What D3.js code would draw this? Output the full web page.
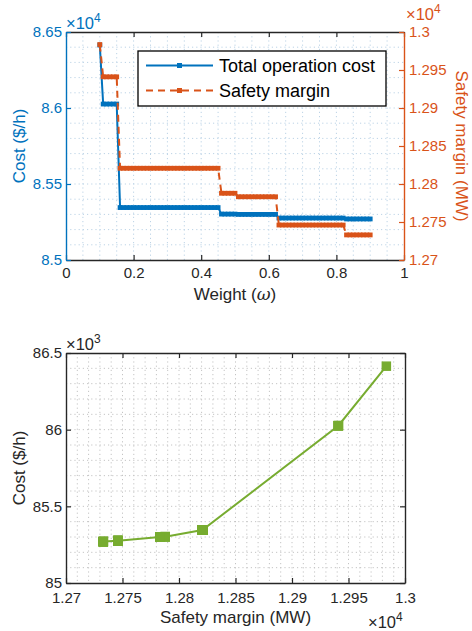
<!DOCTYPE html>
<html>
<head>
<meta charset="utf-8">
<script src="https://cdn.jsdelivr.net/npm/d3@7"></script>
<style>
  body { margin: 0; background: #fff; }
  svg { display: block; font-family: "Liberation Sans", Arial, Helvetica, sans-serif; }
</style>
</head>
<body>
<svg id="chart" width="472" height="631"></svg>
<script>
// weights that were solved (omega)
const weight = [
  0.10, 0.11, 0.12, 0.13, 0.14, 0.15, 0.16, 0.17, 0.18, 0.19,
  0.20, 0.21, 0.22, 0.23, 0.24, 0.25, 0.26, 0.27, 0.28, 0.29,
  0.30, 0.31, 0.32, 0.33, 0.34, 0.35, 0.36, 0.37, 0.38, 0.39,
  0.40, 0.41, 0.42, 0.43, 0.44, 0.45, 0.46, 0.47, 0.48, 0.49,
  0.50, 0.51, 0.52, 0.53, 0.54, 0.55, 0.56, 0.57, 0.58, 0.59,
  0.60, 0.61, 0.62, 0.63, 0.64, 0.65, 0.66, 0.67, 0.68, 0.69,
  0.70, 0.71, 0.72, 0.73, 0.74, 0.75, 0.76, 0.77, 0.78, 0.79,
  0.80, 0.81, 0.82, 0.83, 0.84, 0.85, 0.86, 0.87, 0.88, 0.89,
  0.90
];

// total operation cost ($/h)
const cost = [
  86414, 86026, 86026, 86026, 86026, 86026, 85345, 85345, 85345, 85345,
  85345, 85345, 85345, 85345, 85345, 85345, 85345, 85345, 85345, 85345,
  85345, 85345, 85345, 85345, 85345, 85345, 85345, 85345, 85345, 85345,
  85345, 85345, 85345, 85345, 85345, 85345, 85302, 85302, 85302, 85302,
  85302, 85300, 85300, 85300, 85300, 85300, 85300, 85300, 85300, 85300,
  85300, 85300, 85300, 85276, 85276, 85276, 85276, 85276, 85276, 85276,
  85276, 85276, 85276, 85276, 85276, 85276, 85276, 85276, 85276, 85276,
  85276, 85276, 85276, 85270, 85270, 85270, 85270, 85270, 85270, 85270,
  85270
];

// safety margin (MW)
const margin = [
  12983.5, 12941, 12941, 12941, 12941, 12941, 12820.7, 12820.7, 12820.7, 12820.7,
  12820.7, 12820.7, 12820.7, 12820.7, 12820.7, 12820.7, 12820.7, 12820.7, 12820.7, 12820.7,
  12820.7, 12820.7, 12820.7, 12820.7, 12820.7, 12820.7, 12820.7, 12820.7, 12820.7, 12820.7,
  12820.7, 12820.7, 12820.7, 12820.7, 12820.7, 12820.7, 12787.8, 12787.8, 12787.8, 12787.8,
  12787.8, 12783.2, 12783.2, 12783.2, 12783.2, 12783.2, 12783.2, 12783.2, 12783.2, 12783.2,
  12783.2, 12783.2, 12783.2, 12746, 12746, 12746, 12746, 12746, 12746, 12746,
  12746, 12746, 12746, 12746, 12746, 12746, 12746, 12746, 12746, 12746,
  12746, 12746, 12746, 12733, 12733, 12733, 12733, 12733, 12733, 12733,
  12733
];

// ticks
const weightTicks = [0, 0.2, 0.4, 0.6, 0.8, 1];
const weightTickLabels = ["0", "0.2", "0.4", "0.6", "0.8", "1"];
const costTicks = [85000, 85500, 86000, 86500];
const costTopTickLabels = ["8.5", "8.55", "8.6", "8.65"];
const marginTicks = [12700, 12750, 12800, 12850, 12900, 12950, 13000];
const marginTickLabels = ["1.27", "1.275", "1.28", "1.285", "1.29", "1.295", "1.3"];
const costBotTickLabels = ["85", "85.5", "86", "86.5"];

const legendLabels = ["Total operation cost", "Safety margin"];

const BLUE = "#0072BD", ORANGE = "#D95319", GREEN = "#77AC30", DARK = "#262626";

const svg = d3.select("#chart");
svg.append("rect").attr("width", 472).attr("height", 631).attr("fill", "#fff");

// "x10^n" multiplier label
function superLabel(x, y, exp, color) {
  const t = svg.append("text").attr("x", x).attr("y", y)
    .attr("fill", color).attr("font-size", 16.5);
  t.append("tspan").text("×10");
  t.append("tspan").attr("font-size", 12).attr("dy", -7.5).text(exp);
}

function grid(g, xs, ys, x0, x1, y0, y1, color) {
  g.selectAll(".gv").data(xs).enter().append("line")
    .attr("x1", d => d).attr("x2", d => d).attr("y1", y0).attr("y2", y1);
  g.selectAll(".gh").data(ys).enter().append("line")
    .attr("y1", d => d).attr("y2", d => d).attr("x1", x0).attr("x2", x1);
  g.selectAll("line").attr("stroke", color).attr("stroke-width", 1)
    .attr("stroke-dasharray", "1.2,3");
}

function styleAxis(g, color) {
  g.attr("color", color).attr("font-size", 15).attr("font-family", null);
  g.select(".domain").attr("stroke-width", 1.4);
  g.selectAll(".tick line").attr("stroke-width", 1.2);
}

// ---------- top chart ----------
const t = { left: 66, right: 404, top: 32, bottom: 260 };

const xW = d3.scaleLinear().domain([0, 1]).range([t.left, t.right]);
const yCost = d3.scaleLinear().domain([85000, 86500]).range([t.bottom, t.top]);
const yMargin = d3.scaleLinear().domain([12700, 13000]).range([t.bottom, t.top]);

const gridTop = svg.append("g");
grid(gridTop,
  d3.range(0.05, 1, 0.05).map(xW),
  d3.range(85100, 86500, 100).map(yCost),
  t.left, t.right, t.top, t.bottom, "#bcd3e6");

// series lines
const costLine = d3.line().x((d, i) => xW(weight[i])).y(d => yCost(d));
const marginLine = d3.line().x((d, i) => xW(weight[i])).y(d => yMargin(d));

svg.append("path").datum(cost).attr("d", costLine)
  .attr("fill", "none").attr("stroke", BLUE).attr("stroke-width", 2);
svg.append("g").selectAll("rect").data(cost).enter().append("rect")
  .attr("x", (d, i) => xW(weight[i]) - 2.4).attr("y", d => yCost(d) - 2.4)
  .attr("width", 4.8).attr("height", 4.8).attr("fill", BLUE);

svg.append("path").datum(margin).attr("d", marginLine)
  .attr("fill", "none").attr("stroke", ORANGE).attr("stroke-width", 2)
  .attr("stroke-dasharray", "7,5");
svg.append("g").selectAll("rect").data(margin).enter().append("rect")
  .attr("x", (d, i) => xW(weight[i]) - 2.4).attr("y", d => yMargin(d) - 2.4)
  .attr("width", 4.8).attr("height", 4.8).attr("fill", ORANGE);

// axes
const axB = svg.append("g").attr("transform", `translate(0,${t.bottom})`)
  .call(d3.axisBottom(xW).tickValues(weightTicks).tickFormat((d, i) => weightTickLabels[i])
    .tickSizeInner(-5).tickSizeOuter(0).tickPadding(7));
styleAxis(axB, DARK);
const axT = svg.append("g").attr("transform", `translate(0,${t.top})`)
  .call(d3.axisTop(xW).tickValues(weightTicks).tickFormat("")
    .tickSizeInner(-5).tickSizeOuter(0));
styleAxis(axT, DARK);
const axL = svg.append("g").attr("transform", `translate(${t.left},0)`)
  .call(d3.axisLeft(yCost).tickValues(costTicks).tickFormat((d, i) => costTopTickLabels[i])
    .tickSizeInner(-5).tickSizeOuter(0).tickPadding(4));
styleAxis(axL, BLUE);
const axR = svg.append("g").attr("transform", `translate(${t.right},0)`)
  .call(d3.axisRight(yMargin).tickValues(marginTicks).tickFormat((d, i) => marginTickLabels[i])
    .tickSizeInner(-5).tickSizeOuter(0).tickPadding(5));
styleAxis(axR, ORANGE);

superLabel(t.left, t.top - 3, "4", BLUE);
superLabel(t.right + 2, t.top - 12, "4", ORANGE);

svg.append("text").attr("transform", `translate(25,${(t.top + t.bottom) / 2}) rotate(-90)`)
  .attr("text-anchor", "middle").attr("font-size", 17).attr("fill", BLUE).text("Cost ($/h)");
svg.append("text").attr("transform", `translate(456,${(t.top + t.bottom) / 2}) rotate(90)`)
  .attr("text-anchor", "middle").attr("font-size", 17).attr("fill", ORANGE).text("Safety margin (MW)");
const wl = svg.append("text").attr("x", (t.left + t.right) / 2).attr("y", 300)
  .attr("text-anchor", "middle").attr("font-size", 17).attr("fill", DARK);
wl.append("tspan").text("Weight (");
wl.append("tspan").attr("font-style", "italic").attr("font-family", "DejaVu Serif, serif").text("ω");
wl.append("tspan").text(")");

// legend
const lg = svg.append("g");
lg.append("rect").attr("x", 138).attr("y", 51).attr("width", 248).attr("height", 55)
  .attr("fill", "#fff").attr("stroke", "#000").attr("stroke-width", 1.3);
[BLUE, ORANGE].forEach((c, i) => {
  const y = 65.5 + i * 25;
  lg.append("line").attr("x1", 146).attr("x2", 213).attr("y1", y).attr("y2", y)
    .attr("stroke", c).attr("stroke-width", 2).attr("stroke-dasharray", i ? "7,5" : null);
  lg.append("rect").attr("x", 179.5 - 2.5).attr("y", y - 2.5).attr("width", 5).attr("height", 5).attr("fill", c);
  lg.append("text").attr("x", 219).attr("y", y + 6.5).attr("font-size", 18).attr("fill", "#000")
    .text(legendLabels[i]);
});

// ---------- bottom chart ----------
const b = { left: 66, right: 405, top: 353, bottom: 583 };
const xM = d3.scaleLinear().domain([12700, 13000]).range([b.left, b.right]);
const yC = d3.scaleLinear().domain([85000, 86500]).range([b.bottom, b.top]);

const gridBot = svg.append("g");
grid(gridBot,
  d3.range(12710, 13000, 10).map(xM),
  d3.range(85100, 86500, 100).map(yC),
  b.left, b.right, b.top, b.bottom, "#c4c4c4");

const tradeLine = d3.line().x((d, i) => xM(margin[i])).y(d => yC(d));
svg.append("path").datum(cost).attr("d", tradeLine)
  .attr("fill", "none").attr("stroke", GREEN).attr("stroke-width", 2);
svg.append("g").selectAll("rect").data(cost).enter().append("rect")
  .attr("x", (d, i) => xM(margin[i]) - 4).attr("y", d => yC(d) - 4)
  .attr("width", 8).attr("height", 8)
  .attr("fill", GREEN).attr("stroke", GREEN).attr("stroke-width", 1.5);

const bB = svg.append("g").attr("transform", `translate(0,${b.bottom})`)
  .call(d3.axisBottom(xM).tickValues(marginTicks).tickFormat((d, i) => marginTickLabels[i])
    .tickSizeInner(-5).tickSizeOuter(0).tickPadding(9));
styleAxis(bB, DARK);
const bT = svg.append("g").attr("transform", `translate(0,${b.top})`)
  .call(d3.axisTop(xM).tickValues(marginTicks).tickFormat("").tickSizeInner(-5).tickSizeOuter(0));
styleAxis(bT, DARK);
const bL = svg.append("g").attr("transform", `translate(${b.left},0)`)
  .call(d3.axisLeft(yC).tickValues(costTicks).tickFormat((d, i) => costBotTickLabels[i])
    .tickSizeInner(-5).tickSizeOuter(0).tickPadding(4));
styleAxis(bL, DARK);
const bR = svg.append("g").attr("transform", `translate(${b.right},0)`)
  .call(d3.axisRight(yC).tickValues(costTicks).tickFormat("").tickSizeInner(-5).tickSizeOuter(0));
styleAxis(bR, DARK);

superLabel(b.left, b.top - 3, "3", DARK);
superLabel(368, 628, "4", DARK);

svg.append("text").attr("transform", `translate(25,${(b.top + b.bottom) / 2}) rotate(-90)`)
  .attr("text-anchor", "middle").attr("font-size", 17).attr("fill", DARK).text("Cost ($/h)");
svg.append("text").attr("x", (b.left + b.right) / 2).attr("y", 623)
  .attr("text-anchor", "middle").attr("font-size", 17).attr("fill", DARK).text("Safety margin (MW)");
</script>
</body>
</html>
